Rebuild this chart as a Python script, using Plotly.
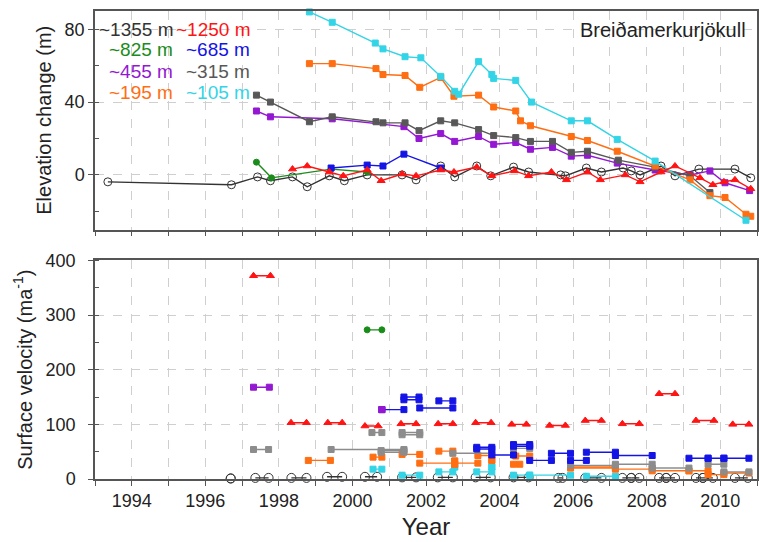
import plotly.graph_objects as go

# ---------------- Elevation change (top panel) ----------------
yr_1355 = [1993.35, 1996.71, 1997.42, 1997.77, 1998.37, 1998.77, 1999.37, 1999.78, 2000.40, 2001.35,
           2001.73, 2002.40, 2002.78, 2003.38, 2003.76, 2004.38, 2004.79, 2005.66, 2005.79, 2006.36,
           2006.77, 2007.36, 2007.58, 2007.82, 2008.39, 2008.77, 2009.42, 2010.40, 2010.83]
dh_1355 = [-3.8, -5.4, -1.1, -3.2, -1.1, -6.5, -0.5, -3.2, 0.0, 0.0,
           -2.7, 4.9, -1.1, 4.9, -0.5, 4.3, 1.6, 0.0, -0.5, 3.8,
           1.6, 3.8, 2.2, 0.0, 4.9, -0.5, 3.2, 3.2, -1.6]

yr_1250 = [1998.37, 1998.77, 1999.37, 1999.75, 2000.40, 2000.78, 2001.35, 2001.73, 2002.40, 2002.76,
           2003.38, 2003.79, 2004.41, 2004.79, 2005.41, 2005.82, 2006.39, 2006.74, 2007.42, 2007.82,
           2008.39, 2008.77, 2009.45, 2009.80, 2010.10, 2010.40, 2010.83]
dh_1250 = [3.2, 4.9, 1.6, -0.5, 2.7, -3.2, 0.5, -0.5, 2.7, 1.6,
           4.3, -0.5, 2.2, -0.5, 1.6, -2.7, 1.6, -2.7, 0.0, -3.8,
           1.6, 4.9, -1.6, -5.4, -3.8, -2.7, -7.6]

yr_825 = [1997.39, 1997.80, 1999.42, 2000.40]
dh_825 = [7.0, -1.6, 3.2, 1.6]

yr_685 = [1999.42, 2000.40, 2000.83, 2001.40, 2002.40]
dh_685 = [3.8, 5.4, 4.9, 11.4, 3.8]

yr_455 = [1997.39, 1997.77, 1999.45, 2001.40, 2001.81, 2002.40, 2002.78, 2003.43, 2003.84, 2004.44,
          2004.84, 2005.44, 2005.95, 2006.39, 2007.20, 2008.23, 2009.18, 2009.72, 2010.13, 2010.80]
dh_455 = [35.1, 31.9, 30.8, 26.5, 20.0, 22.7, 18.4, 21.1, 16.8, 17.8,
          14.1, 15.1, 10.3, 10.8, 6.5, 2.7, 0.0, 2.2, -4.3, -8.6]

yr_315 = [1997.39, 1997.77, 1998.83, 1999.45, 2000.64, 2000.83, 2001.43, 2001.81, 2002.40, 2002.78,
          2003.43, 2003.84, 2004.44, 2004.84, 2005.44, 2005.95, 2006.39, 2007.23, 2008.23, 2009.18, 2009.72]
dh_315 = [43.8, 40.0, 29.2, 31.9, 29.2, 28.6, 28.6, 24.3, 29.7, 28.6,
          24.9, 21.6, 20.5, 18.4, 18.4, 12.4, 13.0, 8.1, 4.3, -0.5, -9.7]

yr_195 = [1998.83, 1999.45, 2000.64, 2000.83, 2001.43, 2001.83, 2002.40, 2002.76, 2003.43, 2003.84,
          2004.44, 2004.57, 2004.84, 2005.95, 2006.39, 2007.20, 2008.23, 2009.18, 2009.72, 2010.13,
          2010.70, 2010.83]
dh_195 = [61.1, 61.1, 58.4, 55.1, 54.6, 48.1, 53.5, 43.2, 43.8, 37.3,
          35.1, 29.7, 27.0, 21.1, 18.9, 13.0, 4.9, -2.7, -11.4, -12.4,
          -21.6, -22.7]

yr_105 = [1998.83, 1999.45, 2000.62, 2000.83, 2001.43, 2001.86, 2002.40, 2002.78, 2002.89, 2003.43,
          2003.79, 2003.84, 2004.44, 2004.87, 2005.95, 2006.39, 2007.20, 2008.23, 2010.70]
dh_105 = [89.5, 83.8, 72.4, 69.2, 64.9, 64.3, 54.1, 45.9, 44.3, 62.2,
          55.1, 53.0, 51.9, 40.0, 29.7, 29.7, 19.5, 7.6, -24.9]

# ---------------- Surface velocity (bottom panel): start year, end year, velocity ----------------
v1355_t0 = [1996.69, 1997.36, 1998.34, 1999.31, 2000.34, 2001.35, 2002.32, 2003.35, 2004.38, 2005.60,
            2006.33, 2007.34, 2007.58, 2008.34, 2008.53, 2009.34, 2009.53, 2010.40]
v1355_t1 = [1996.69, 1997.72, 1998.75, 1999.72, 2000.67, 2001.73, 2002.73, 2003.76, 2004.79, 2005.71,
            2006.77, 2007.58, 2007.80, 2008.53, 2008.77, 2009.53, 2009.80, 2010.75]
v1355_v = [1, 2, 2, 4, 4, 3, 3, 3, 3, 2, 2, 2, 2, 2, 2, 2, 2, 2]

v1250_t0 = [1997.31, 1998.33, 1999.33, 2000.34, 2001.32, 2002.33, 2003.35, 2004.33, 2005.36, 2006.33,
            2007.34, 2008.34, 2009.34, 2010.34]
v1250_t1 = [1997.77, 1998.75, 1999.72, 2000.70, 2001.73, 2002.73, 2003.77, 2004.73, 2005.79, 2006.77,
            2007.80, 2008.77, 2009.83, 2010.78]
v1250_v = [372, 103, 103, 97, 101, 101, 103, 100, 98, 107, 101, 156, 107, 100]

v825_t0 = [2000.40]
v825_t1 = [2000.80]
v825_v = [273]

v685_t0 = [2000.80, 2001.40, 2001.40, 2002.35, 2001.83, 2003.38, 2003.38, 2003.79, 2004.38, 2004.38,
           2004.82, 2005.41, 2005.93, 2006.36, 2007.15, 2009.15, 2009.67, 2010.10]
v685_t1 = [2001.40, 2001.81, 2001.81, 2002.73, 2002.73, 2003.79, 2003.79, 2004.38, 2004.82, 2004.82,
           2005.41, 2005.93, 2006.36, 2007.15, 2008.15, 2009.67, 2010.10, 2010.78]
v685_v = [127, 150, 145, 143, 130, 58, 55, 44, 63, 60, 34, 47, 34, 49, 43, 38, 38, 38]

v455_t0 = [1997.31, 2000.80]
v455_t1 = [1997.74, 2000.80]
v455_v = [168, 127]

v315_t0 = [1997.31, 1999.42, 2000.53, 2001.35, 2001.35, 2000.78, 2000.78, 2002.73, 2004.38, 2005.93,
           2007.15, 2008.15, 2009.67, 2010.10]
v315_t1 = [1997.72, 2001.40, 2000.80, 2001.83, 2001.83, 2001.40, 2001.40, 2003.79, 2004.82, 2007.15,
           2008.15, 2009.15, 2010.10, 2010.78]
v315_v = [54, 54, 85, 85, 81, 52, 49, 47, 56, 25, 27, 20, 27, 13]

v195_t0 = [1998.80, 2000.56, 2001.35, 2001.83, 2002.35, 2002.78, 2002.78, 2003.41, 2003.79, 2004.38,
           2004.44, 2005.93, 2005.93, 2007.15, 2008.15, 2009.15, 2009.67, 2010.10]
v195_t1 = [1999.40, 2000.80, 2001.83, 2003.41, 2002.73, 2002.78, 2002.78, 2003.79, 2003.79, 2004.55,
           2004.82, 2007.15, 2007.15, 2008.15, 2009.15, 2009.67, 2010.10, 2010.78]
v195_v = [34, 40, 45, 29, 51, 33, 27, 43, 34, 27, 42, 22, 20, 18, 15, 15, 8, 11]

v105_t0 = [2000.56, 2001.35, 2002.35, 2002.78, 2003.38, 2003.79, 2004.38, 2004.82, 2006.36]
v105_t1 = [2000.80, 2001.83, 2002.73, 2002.78, 2003.79, 2003.79, 2004.82, 2005.93, 2007.15]
v105_v = [18, 7, 13, 22, 13, 22, 7, 7, 5]

C1355 = "#333333"
C1250 = "#ff1414"
C825 = "#1a8c1a"
C685 = "#1414e6"
C455 = "#9418d2"
C315 = "#585858"
C315b = "#8c8c8c"
C195 = "#ff6e12"
C105 = "#33d4e6"


def segs(t0, t1, v):
    xs, ys = [], []
    for a, b, c in zip(t0, t1, v):
        xs += [a, b, None]
        ys += [c, c, None]
    return xs, ys


fig = go.Figure()

top_series = [
    (yr_1355, dh_1355, C1355, "circle-open", 8),
    (yr_825, dh_825, C825, "circle", 6),
    (yr_685, dh_685, C685, "square", 6),
    (yr_455, dh_455, C455, "square", 6),
    (yr_315, dh_315, C315, "square", 6),
    (yr_195, dh_195, C195, "square", 6),
    (yr_105, dh_105, C105, "square", 6),
    (yr_1250, dh_1250, C1250, "triangle-up", 7),
]
for xs, ys, col, sym, sz in top_series:
    fig.add_trace(go.Scatter(x=xs, y=ys, mode="lines+markers", xaxis="x", yaxis="y",
                             line=dict(color=col, width=1.4),
                             marker=dict(symbol=sym, size=sz, color=col, line=dict(color=col, width=1)),
                             cliponaxis=False, showlegend=False, hoverinfo="skip"))

bottom_series = [
    (v1355_t0, v1355_t1, v1355_v, C1355, "circle-open", 9),
    (v105_t0, v105_t1, v105_v, C105, "square", 6),
    (v195_t0, v195_t1, v195_v, C195, "square", 6),
    (v315_t0, v315_t1, v315_v, C315b, "square", 6),
    (v685_t0, v685_t1, v685_v, C685, "square", 6),
    (v455_t0, v455_t1, v455_v, C455, "square", 6),
    (v825_t0, v825_t1, v825_v, C825, "circle", 6),
    (v1250_t0, v1250_t1, v1250_v, C1250, "triangle-up", 7),
]
for t0, t1, v, col, sym, sz in bottom_series:
    xs, ys = segs(t0, t1, v)
    fig.add_trace(go.Scatter(x=xs, y=ys, mode="lines+markers", xaxis="x2", yaxis="y2",
                             line=dict(color=col, width=1.4),
                             marker=dict(symbol=sym, size=sz, color=col, line=dict(color=col, width=1)),
                             connectgaps=False, cliponaxis=False, showlegend=False, hoverinfo="skip"))

FONT = "Liberation Sans, Arial, sans-serif"
GRID = "#cfcfcf"
axis_common = dict(showline=True, mirror=True, linecolor="#555555", linewidth=1.5,
                   showgrid=True, gridcolor=GRID, griddash="dash", gridwidth=1,
                   zeroline=False, ticks="outside", ticklen=5, tickcolor="#555555",
                   tickfont=dict(family=FONT, size=18, color="#222222"))
xminor = dict(dtick=1, tick0=1993, ticks="outside", ticklen=5, tickcolor="#555555",
              showgrid=True, gridcolor=GRID, griddash="dash", gridwidth=1)

fig.update_layout(
    width=760, height=542,
    margin=dict(l=95, r=1, t=6, b=63),
    paper_bgcolor="white", plot_bgcolor="white",
    font=dict(family=FONT, color="#222222"),
    xaxis=dict(axis_common, range=[1993, 2011], dtick=2, tick0=1994, minor=xminor,
               showticklabels=False, anchor="y", domain=[0, 1]),
    yaxis=dict(axis_common, range=[-30, 90], dtick=40, tick0=0, domain=[0.533, 1], anchor="x",
               minor=dict(dtick=20, tick0=0, ticks="inside", ticklen=4, tickcolor="#555555", showgrid=False),
               title=dict(text="Elevation change (m)", font=dict(family=FONT, size=20, color="#222222"),
                          standoff=8)),
    xaxis2=dict(axis_common, range=[1993, 2011], dtick=2, tick0=1994, minor=xminor,
                anchor="y2", domain=[0, 1],
                title=dict(text="Year", font=dict(family=FONT, size=24, color="#222222"), standoff=8)),
    yaxis2=dict(axis_common, range=[0, 400], dtick=100, domain=[0, 0.467], anchor="x2",
                ticklabelstandoff=9,
                minor=dict(dtick=50, ticks="inside", ticklen=4, tickcolor="#555555", showgrid=False),
                title=dict(text="Surface velocity (ma<sup>-1</sup>)",
                           font=dict(family=FONT, size=20, color="#222222"), standoff=8)),
)

legend_items = [
    ("~1355 m", C1355, 1995.17, 80.0), ("~1250 m", C1250, 1997.28, 80.0),
    ("~825 m", C825, 1995.17, 68.6), ("~685 m", C685, 1997.28, 68.6),
    ("~455 m", C455, 1995.17, 56.8), ("~315 m", C315, 1997.28, 56.8),
    ("~195 m", C195, 1995.17, 45.4), ("~105 m", C105, 1997.28, 45.4),
]
for txt, col, xx, yy in legend_items:
    fig.add_annotation(x=xx, y=yy, xref="x", yref="y", text=txt, showarrow=False,
                       xanchor="right", yanchor="middle",
                       font=dict(family=FONT, size=19, color=col))

fig.add_annotation(x=2010.75, y=79.5, xref="x", yref="y", text="Breiðamerkurjökull", showarrow=False,
                   xanchor="right", yanchor="middle", font=dict(family=FONT, size=20, color="#222222"))

fig.write_html("out.html")
